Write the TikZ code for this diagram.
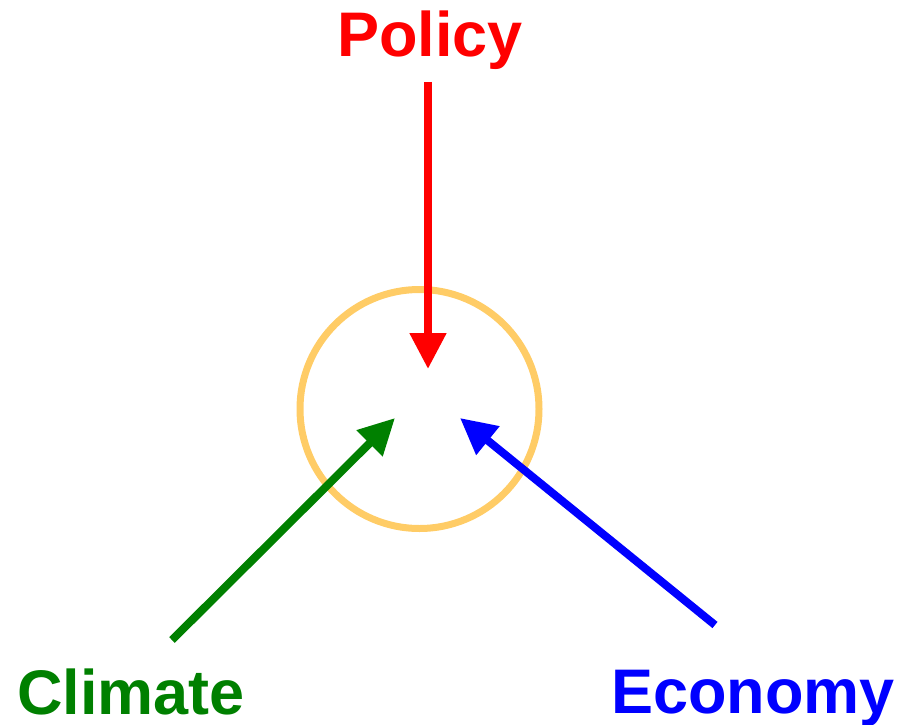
\documentclass[tikz,border=0pt]{standalone}
\usepackage{fontspec}
\setmainfont{Liberation Sans}
\usetikzlibrary{arrows.meta}
\definecolor{hubring}{HTML}{FFCC66}
\definecolor{policyred}{HTML}{FF0000}
\definecolor{climategreen}{HTML}{008000}
\definecolor{economyblue}{HTML}{0000FF}
\begin{document}
\begin{tikzpicture}[x=1pt,y=-1pt,
  label/.style={font=\fontsize{63}{63}\selectfont\bfseries, anchor=base, inner sep=0pt},
  push/.style={line width=8pt, -{Triangle[length=36pt,width=35pt]}}]
\useasboundingbox (0,0) rectangle (900,725);
% central ring
\node[circle, draw=hubring, line width=7pt, minimum size=239pt, inner sep=0pt] (hub) at (419.5,409) {};
% labels
\node[label, text=policyred] (policy) at (430,57) {Policy};
\node[label, text=climategreen] (climate) at (131,714) {Climate};
\node[label, text=economyblue] (economy) at (753,713) {Economy};
% arrow end points
\coordinate (pstart) at (428,82);
\coordinate (pend) at (428,369);
\coordinate (cstart) at (172,640);
\coordinate (cend) at (395,418);
\coordinate (estart) at (715,625);
\coordinate (eend) at (460,418);
% influences
\draw[push, policyred] (pstart) -- (pend);
\draw[push, climategreen] (cstart) -- (cend);
\draw[push, economyblue] (estart) -- (eend);
\end{tikzpicture}
\end{document}
